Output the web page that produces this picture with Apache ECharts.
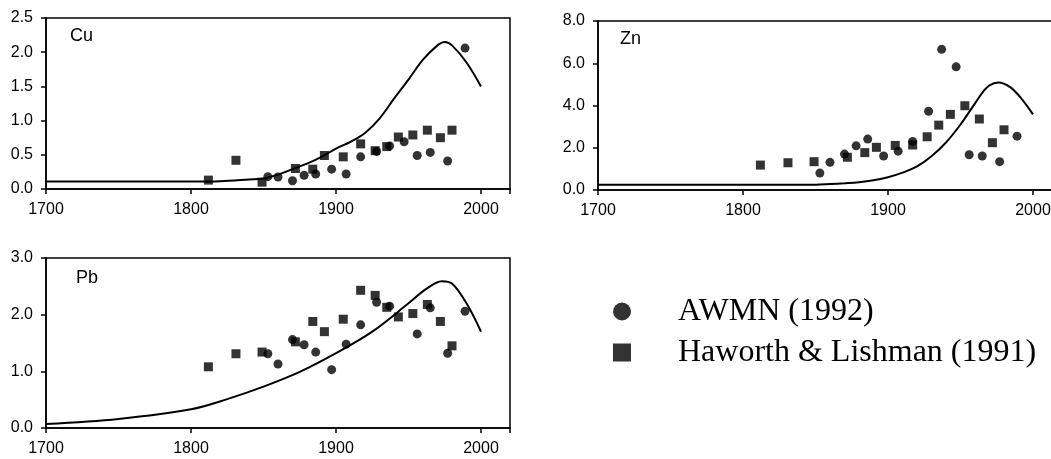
<!DOCTYPE html>
<html>
<head>
<meta charset="utf-8">
<script src="https://cdn.jsdelivr.net/npm/echarts@6/dist/echarts.min.js"></script>
<style>
html,body{margin:0;padding:0;background:#fff;}
#chart{width:1051px;height:459px;}
</style>
</head>
<body>
<div id="chart"></div>
<script>
// ---- data ----
const circleYears = [1853, 1860, 1870, 1878, 1886, 1897, 1907, 1917, 1928, 1937, 1947, 1956, 1965, 1977, 1989];
const squareYears = [1812, 1831, 1849, 1872, 1884, 1892, 1905, 1917, 1927, 1935, 1943, 1953, 1963, 1972, 1980];

const cuCircles = [0.18, 0.175, 0.12, 0.20, 0.22, 0.29, 0.22, 0.47, 0.55, 0.63, 0.69, 0.49, 0.535, 0.41, 2.06];
const cuSquares = [0.13, 0.42, 0.10, 0.30, 0.29, 0.49, 0.47, 0.66, 0.56, 0.62, 0.76, 0.79, 0.86, 0.75, 0.86];

const znCircles = [0.80, 1.31, 1.70, 2.09, 2.41, 1.61, 1.84, 2.30, 3.73, 6.66, 5.83, 1.67, 1.61, 1.34, 2.55];
const znSquares = [1.18, 1.29, 1.34, 1.55, 1.77, 2.02, 2.11, 2.13, 2.52, 3.07, 3.58, 3.99, 3.36, 2.24, 2.85];

const pbCircles = [1.31, 1.13, 1.56, 1.47, 1.34, 1.03, 1.48, 1.82, 2.22, 2.15, null, 1.66, 2.12, 1.32, 2.06];
const pbSquares = [1.08, 1.31, 1.34, 1.52, 1.88, 1.70, 1.92, 2.43, 2.34, 2.13, 1.96, 2.02, 2.18, 1.88, 1.45];

const cuCurveYears = [1700, 1750, 1800, 1820, 1840, 1850, 1860, 1870, 1880, 1890, 1900, 1910, 1920, 1930, 1940, 1950, 1960, 1970, 1975, 1980, 1990, 2000];
const cuCurve      = [0.11, 0.11, 0.11, 0.115, 0.14, 0.155, 0.21, 0.29, 0.37, 0.47, 0.59, 0.69, 0.82, 1.03, 1.32, 1.60, 1.89, 2.10, 2.15, 2.10, 1.85, 1.50];

const znCurveYears = [1700, 1800, 1850, 1860, 1870, 1880, 1890, 1900, 1910, 1920, 1930, 1940, 1950, 1960, 1965, 1970, 1976, 1984, 1992, 2000];
const znCurve      = [0.25, 0.25, 0.25, 0.28, 0.32, 0.37, 0.46, 0.60, 0.82, 1.12, 1.60, 2.25, 3.10, 4.10, 4.60, 4.95, 5.09, 4.88, 4.33, 3.58];

const pbCurveYears = [1700, 1750, 1800, 1825, 1850, 1875, 1900, 1925, 1950, 1962, 1973, 1980, 1990, 2000];
const pbCurve      = [0.07, 0.16, 0.33, 0.51, 0.73, 0.99, 1.32, 1.70, 2.20, 2.45, 2.59, 2.55, 2.20, 1.70];

const panelNames = ['Cu', 'Zn', 'Pb'];
const yMax = [2.5, 8, 3];
const yStep = [0.5, 2, 1];
const xTickYears = [1700, 1800, 1900, 2000];

const circleName = 'AWMN (1992)';
const squareName = 'Haworth & Lishman (1991)';

// ---- build ----
function pairs(xs, ys) {
  const out = [];
  for (let i = 0; i < xs.length; i++) if (ys[i] !== null) out.push([xs[i], ys[i]]);
  return out;
}

const grids = [
  {left: 46, width: 464, top: 18, height: 171},
  {left: 598, width: 464, top: 21, height: 169},
  {left: 46, width: 464, top: 258, height: 170}
];

const sansFont = '"Liberation Sans", Arial, sans-serif';

const xAxes = grids.map((g, i) => ({
  type: 'value', gridIndex: i, min: 1700, max: 2020, interval: 100,
  axisLine: {show: true, onZero: false, lineStyle: {color: '#000', width: 1.5}},
  axisTick: {show: true, inside: false, length: 5, lineStyle: {color: '#000', width: 1.5}},
  axisLabel: {color: '#000', fontSize: 16, fontFamily: sansFont, margin: 13,
    formatter: v => (xTickYears.indexOf(v) >= 0 ? String(v) : '')},
  splitLine: {show: false}
}));

const yAxes = grids.map((g, i) => ({
  type: 'value', gridIndex: i, min: 0, max: yMax[i], interval: yStep[i],
  axisLine: {show: true, lineStyle: {color: '#000', width: 1.5}},
  axisTick: {show: true, inside: false, length: 5, lineStyle: {color: '#000', width: 1.5}},
  axisLabel: {color: '#000', fontSize: 16, fontFamily: sansFont, margin: 13,
    formatter: v => v.toFixed(1)},
  splitLine: {show: false}
}));

const curves = [[cuCurveYears, cuCurve], [znCurveYears, znCurve], [pbCurveYears, pbCurve]];
const circles = [cuCircles, znCircles, pbCircles];
const squares = [cuSquares, znSquares, pbSquares];

const series = [];
for (let i = 0; i < 3; i++) {
  series.push({
    type: 'line', name: panelNames[i] + ' model', xAxisIndex: i, yAxisIndex: i,
    data: pairs(curves[i][0], curves[i][1]), smooth: 0.35, showSymbol: false,
    lineStyle: {color: '#000', width: 2}, z: 2, silent: true
  });
  series.push({
    type: 'scatter', name: squareName, xAxisIndex: i, yAxisIndex: i,
    data: pairs(squareYears, squares[i]), symbol: 'rect', symbolSize: 9,
    itemStyle: {color: '#000'}, z: 3
  });
  series.push({
    type: 'scatter', name: circleName, xAxisIndex: i, yAxisIndex: i,
    data: pairs(circleYears, circles[i]), symbol: 'circle', symbolSize: 9,
    itemStyle: {color: '#000'}, z: 4
  });
}

const titles = [
  {text: 'Cu', left: 70, top: 27},
  {text: 'Zn', left: 620, top: 30},
  {text: 'Pb', left: 76, top: 269}
].map(t => ({text: t.text, left: t.left, top: t.top, padding: 0,
  textStyle: {fontSize: 18, fontWeight: 'normal', color: '#000', fontFamily: sansFont}}));

const option = {
  animation: false,
  backgroundColor: '#fff',
  title: titles,
  grid: grids.map(g => Object.assign({show: true, borderColor: '#000', borderWidth: 1.5,
    backgroundColor: 'transparent', outerBoundsMode: 'none', containLabel: false}, g)),
  xAxis: xAxes,
  yAxis: yAxes,
  legend: {
    orient: 'vertical', left: 613, top: 291, itemGap: 0, padding: 0,
    itemWidth: 18, itemHeight: 18,
    data: [{name: circleName, icon: 'circle'}, {name: squareName, icon: 'rect'}],
    textStyle: {fontSize: 32, lineHeight: 41, color: '#000',
      fontFamily: '"Liberation Serif", "Times New Roman", serif', padding: [0, 0, 0, 42]},
    itemStyle: {color: '#000'},
    selectedMode: false
  },
  series: series
};

const chart = echarts.init(document.getElementById('chart'), null, {renderer: 'canvas'});
chart.setOption(option);
</script>
</body>
</html>
